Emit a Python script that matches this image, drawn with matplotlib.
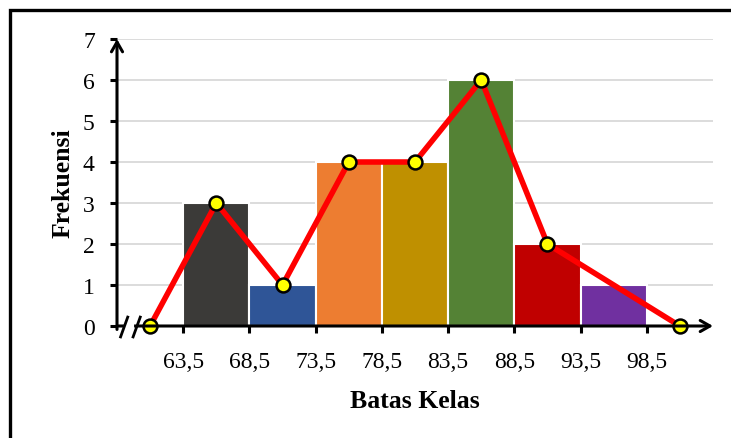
import matplotlib.pyplot as plt
from matplotlib.lines import Line2D

plt.rcParams["font.family"] = ["Liberation Serif", "DejaVu Serif"]

# class boundaries and frequency of each class
edges = [63.5, 68.5, 73.5, 78.5, 83.5, 88.5, 93.5, 98.5]
freq = [3, 1, 4, 4, 6, 2, 1]
bar_colors = ["#3b3a38", "#2f5597", "#ed7d31", "#bf9000",
              "#548235", "#c00000", "#7030a0"]

# frequency polygon points
poly_x = [61, 66, 71, 76, 81, 86, 91, 101]
poly_y = [0, 3, 1, 4, 4, 6, 2, 0]

W, H = 731, 439
fig = plt.figure(figsize=(W / 100, H / 100), dpi=100)
ax = fig.add_axes([117 / W, 112 / H, 596 / W, 287 / H])

# outer frame: only the left and top edges fall inside the image
fx, fy = 10 / W, 1 - 11 / H
fig.add_artist(Line2D([fx, fx, 1.05], [-0.05, fy, fy],
                      transform=fig.transFigure, color="black",
                      linewidth=2.4, solid_joinstyle="miter"))

ax.set_xlim(58.5, 103.5)
ax.set_ylim(0, 7)

for y in range(1, 8):
    ax.axhline(y, color="#d9d9d9", linewidth=1.3, zorder=1)

lefts = edges[:-1]
ax.bar(lefts, freq, width=5, align="edge", color=bar_colors,
       edgecolor="white", linewidth=1.5, zorder=2)

ax.plot(poly_x, poly_y, color="#ff0000", linewidth=4, zorder=3,
        solid_capstyle="round", clip_on=False)
ax.plot(poly_x, poly_y, linestyle="none", marker="o", markersize=10,
        markerfacecolor="#ffff00", markeredgecolor="black",
        markeredgewidth=1.8, zorder=4, clip_on=False)

for side in ax.spines.values():
    side.set_visible(False)

# axis lines with open arrowheads
arrow = dict(arrowstyle="->,head_length=0.7,head_width=0.4",
             color="black", linewidth=2.2, shrinkA=0, shrinkB=0)
ax.annotate("", xy=(1.0, 0), xytext=(0, 0), xycoords="axes fraction",
            arrowprops=arrow, zorder=5)
ax.annotate("", xy=(0, 1.0), xytext=(0, -0.012), xycoords="axes fraction",
            arrowprops=arrow, zorder=5)

# axis break marks
ax.plot([0.015, 0.026], [0, 0], transform=ax.transAxes, color="white",
        linewidth=3, clip_on=False, zorder=6)
for x0 in (0.006, 0.027):
    ax.plot([x0, x0 + 0.012], [-0.038, 0.031], transform=ax.transAxes,
            color="black", linewidth=2.0, clip_on=False, zorder=7)

ax.set_yticks(range(0, 8))
ax.set_xticks(edges)
ax.set_xticklabels([f"{e:.1f}".replace(".", ",") for e in edges])
ax.tick_params(axis="both", direction="out", length=5, width=2.2,
               labelsize=17, colors="black")
ax.tick_params(axis="x", pad=13)
ax.tick_params(axis="y", pad=11)

ax.set_xlabel("Batas Kelas", fontsize=18.5, fontweight="bold", labelpad=12)
ax.set_ylabel("Frekuensi", fontsize=18.5, fontweight="bold", labelpad=6)

fig.savefig("out.png", dpi=100)
